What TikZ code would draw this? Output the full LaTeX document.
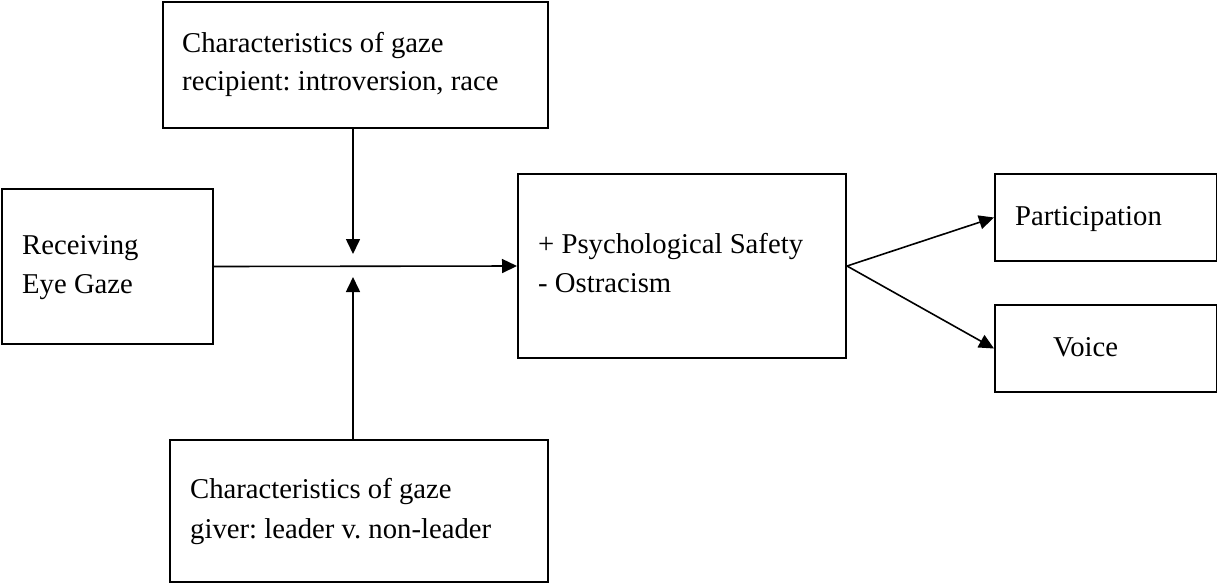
\documentclass[tikz,border=0pt]{standalone}
\usepackage{fontspec}
\setmainfont{Liberation Serif}
\usetikzlibrary{arrows.meta,calc}
\frenchspacing
\begin{document}
\begin{tikzpicture}[x=1pt,y=-1pt,
  box/.style={draw,line width=2pt,inner sep=0pt,anchor=north west},
  lbl/.style={anchor=base west,inner sep=0pt,font=\fontsize{28.7}{38}\selectfont},
  conn/.style={line width=1.6pt,-{Triangle[length=15pt,width=14pt]}}]
\useasboundingbox (0,0) rectangle (1217,582);
% boxes
\node[box,minimum width=385pt,minimum height=126pt] (top) at (162,1) {};
\node[box,minimum width=211pt,minimum height=155pt] (left) at (1,188) {};
\node[box,minimum width=328pt,minimum height=184pt] (mid) at (517,173) {};
\node[box,minimum width=222pt,minimum height=87pt] (part) at (994,173) {};
\node[box,minimum width=222pt,minimum height=87pt] (voice) at (994,304) {};
\node[box,minimum width=378pt,minimum height=142pt] (bot) at (169,439) {};
% texts
\node[lbl] (t1) at (182,52) {Characteristics of gaze};
\node[lbl] (t2) at (182,90) {recipient: introversion, race};
\node[lbl] (l1) at (22,254) {Receiving};
\node[lbl] (l2) at (22,293) {Eye Gaze};
\node[lbl] (m1) at (538,253) {+ Psychological Safety};
\node[lbl] (m2) at (538,292) {- Ostracism};
\node[lbl] (p1) at (1015,225) {Participation};
\node[lbl] (v1) at (1053,356) {Voice};
\node[lbl] (b1) at (190,498) {Characteristics of gaze};
\node[lbl] (b2) at (190,538) {giver: leader v. non-leader};
% connectors
\coordinate (j) at (353,265);
\coordinate (jt) at (353,254);
\coordinate (jb) at (353,277);
\draw[conn] (left.east) -- (mid.west);
\draw[conn] (top.south -| j) -- (jt);
\draw[conn] (bot.north -| j) -- (jb);
\draw[conn] (mid.east) -- (part.west);
\draw[conn] (mid.east) -- (voice.west);
\end{tikzpicture}
\end{document}
